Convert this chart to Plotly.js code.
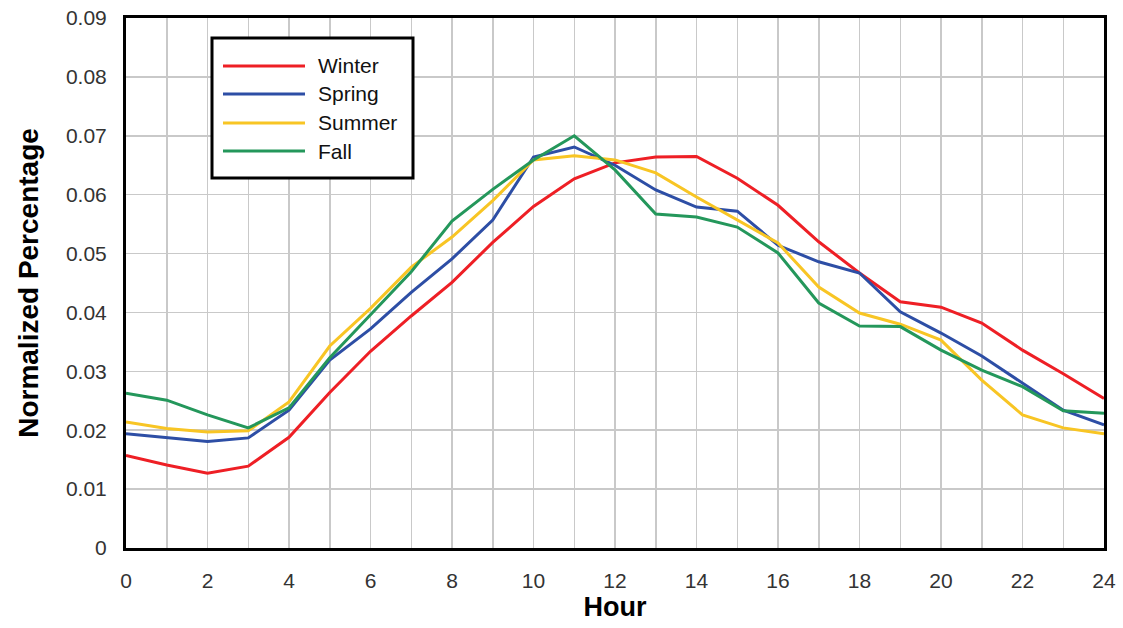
<!DOCTYPE html>
<html>
<head>
<meta charset="utf-8">
<script src="https://cdn.plot.ly/plotly-3.0.1.min.js"></script>
<style>html,body{margin:0;padding:0;background:#fff;}#chart{width:1123px;height:628px;}</style>
</head>
<body>
<div id="chart"></div>
<script>
const hours = [0,1,2,3,4,5,6,7,8,9,10,11,12,13,14,15,16,17,18,19,20,21,22,23,24];
const seriesNames = ["Winter", "Spring", "Summer", "Fall"];
const seriesColors = ["#ee1f25", "#2d4ea5", "#f8c524", "#24975b"];
const winter = [0.0157,0.0141,0.0127,0.0139,0.0188,0.0264,0.0334,0.0394,0.0451,0.0519,0.0580,0.0627,0.0654,0.0664,0.0665,0.0628,0.0582,0.0520,0.0467,0.0418,0.0409,0.0382,0.0336,0.0296,0.0254];
const spring = [0.0194,0.0187,0.0181,0.0187,0.0234,0.0319,0.0372,0.0434,0.0491,0.0557,0.0664,0.0681,0.0650,0.0608,0.0579,0.0572,0.0514,0.0486,0.0467,0.0401,0.0365,0.0326,0.0280,0.0234,0.0209];
const summer = [0.0214,0.0203,0.0197,0.0199,0.0248,0.0343,0.0407,0.0477,0.0528,0.0590,0.0659,0.0666,0.0659,0.0637,0.0596,0.0557,0.0518,0.0443,0.0399,0.0380,0.0353,0.0285,0.0226,0.0204,0.0194];
const fall   = [0.0263,0.0251,0.0226,0.0204,0.0238,0.0323,0.0396,0.0469,0.0555,0.0609,0.0659,0.0700,0.0642,0.0567,0.0562,0.0545,0.0501,0.0416,0.0377,0.0376,0.0336,0.0302,0.0274,0.0233,0.0229];
const seriesValues = [winter, spring, summer, fall];
const xTickVals = [0,2,4,6,8,10,12,14,16,18,20,22,24];
const yTickVals = [0,0.01,0.02,0.03,0.04,0.05,0.06,0.07,0.08,0.09];
const yTickText = ["0","0.01","0.02","0.03","0.04","0.05","0.06","0.07","0.08","0.09"];

const W = 1123, H = 628;
const M = {l: 126, r: 19, t: 18, b: 80};
const pw = W - M.l - M.r, ph = H - M.t - M.b;
const px = x => (x - M.l) / pw;
const py = y => (H - M.b - y) / ph;

const traces = seriesNames.map((n, i) => ({
  x: hours, y: seriesValues[i], name: n, type: 'scatter', mode: 'lines',
  line: {color: seriesColors[i], width: 3}, showlegend: false
}));

const shapes = [{
  type: 'rect', xref: 'paper', yref: 'paper',
  x0: px(212), x1: px(413), y0: py(178), y1: py(38),
  line: {color: '#000', width: 3}, fillcolor: '#fff', layer: 'above'
}];
const annotations = [];
const rowY = [66, 94, 123, 151];
seriesNames.forEach((n, i) => {
  shapes.push({type: 'line', xref: 'paper', yref: 'paper',
    x0: px(223), x1: px(305), y0: py(rowY[i]), y1: py(rowY[i]),
    line: {color: seriesColors[i], width: 3}, layer: 'above'});
  annotations.push({xref: 'paper', yref: 'paper', x: px(316), y: py(rowY[i]),
    xanchor: 'left', yanchor: 'middle', text: n, showarrow: false,
    font: {family: 'Liberation Sans, Arial, sans-serif', size: 21, color: '#111'}});
});

const gridColor = '#c9c9c9';
const layout = {
  width: W, height: H,
  margin: M,
  paper_bgcolor: '#fff', plot_bgcolor: '#fff',
  font: {family: 'Liberation Sans, Arial, sans-serif', color: '#222'},
  xaxis: {
    range: [0, 24], tickvals: xTickVals, ticks: '', showgrid: true,
    gridcolor: gridColor, gridwidth: 1.5,
    minor: {dtick: 1, showgrid: true, gridcolor: gridColor, gridwidth: 1.5},
    showline: true, linecolor: '#000', linewidth: 3, mirror: true,
    zeroline: false, tickfont: {size: 21, color: '#333'}, ticklabelstandoff: 12,
    title: {text: 'Hour', font: {size: 27, color: '#000', weight: 'bold'}, standoff: 4}
  },
  yaxis: {
    range: [0, 0.09], tickvals: yTickVals, ticktext: yTickText, ticks: '',
    showgrid: true, gridcolor: gridColor, gridwidth: 1.5,
    showline: true, linecolor: '#000', linewidth: 3, mirror: true,
    zeroline: false, tickfont: {size: 21, color: '#333'}, ticklabelstandoff: 12,
    title: {text: 'Normalized Percentage', font: {size: 28, color: '#000', weight: 'bold'}, standoff: 20}
  },
  shapes: shapes,
  annotations: annotations,
  showlegend: false
};
Plotly.newPlot('chart', traces, layout, {displayModeBar: false, staticPlot: true});
</script>
</body>
</html>
